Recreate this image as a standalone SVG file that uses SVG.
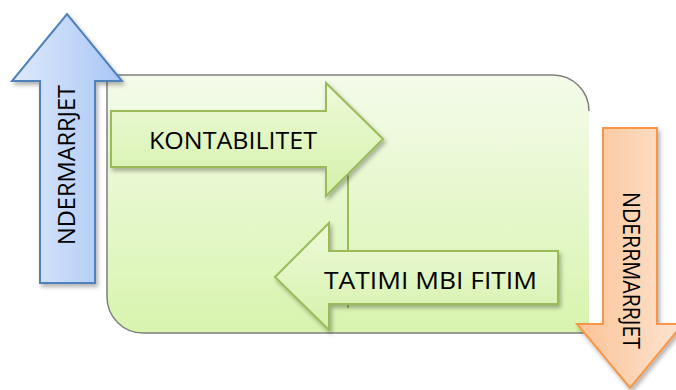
<svg xmlns="http://www.w3.org/2000/svg" width="676" height="390" viewBox="0 0 676 390">
<defs>
<linearGradient id="gBox" x1="0" y1="0" x2="0" y2="1">
<stop offset="0" stop-color="#f4fbea"/>
<stop offset="1" stop-color="#d8f4ae"/>
</linearGradient>
<linearGradient id="gGreen" x1="0" y1="0" x2="0" y2="1">
<stop offset="0" stop-color="#eefada"/>
<stop offset="1" stop-color="#d5f1aa"/>
</linearGradient>
<linearGradient id="gBlue" x1="0" y1="0" x2="1" y2="0">
<stop offset="0" stop-color="#dfeafc"/>
<stop offset="1" stop-color="#a8c6f5"/>
</linearGradient>
<linearGradient id="gOrange" x1="0" y1="0" x2="1" y2="0">
<stop offset="0" stop-color="#fbc396"/>
<stop offset="1" stop-color="#fde4d1"/>
</linearGradient>
<filter id="sh" x="-20%" y="-20%" width="150%" height="150%">
<feDropShadow dx="2" dy="3" stdDeviation="2" flood-color="#000" flood-opacity="0.3"/>
</filter>
<style>
.lbl{font-family:"Open Sans","Liberation Sans",sans-serif;font-size:23px;fill:#000}
.garrow{fill:url(#gGreen);stroke:#9bbb59;stroke-width:2;stroke-linejoin:miter;filter:url(#sh)}
</style>
</defs>

<g id="container">
<path d="M107,75 L553,75 A36,36 0 0 1 589,111 L589,333 L143,333 A36,36 0 0 1 107,297 Z" fill="url(#gBox)"/>
<path d="M589,111 A36,36 0 0 0 553,75 L107,75 L107,297 A36,36 0 0 0 143,333 L589,333" fill="none" stroke="#7f7f7f" stroke-width="1.5"/>
</g>

<g id="connectors">
<line x1="348" y1="112" x2="348" y2="308" stroke="#9bbb59" stroke-width="2"/>
</g>

<g id="kontabilitet">
<path class="garrow" d="M111,111 L326,111 L326,83 L383,139 L326,196 L326,167 L111,167 Z"/>
<text class="lbl" x="149" y="149" textLength="168" lengthAdjust="spacingAndGlyphs">KONTABILITET</text>
</g>

<g id="tatimi">
<path class="garrow" d="M558,251 L329,251 L329,223 L275,277 L329,330 L329,304 L558,304 Z"/>
<text class="lbl" x="324" y="289" textLength="213" lengthAdjust="spacingAndGlyphs">TATIMI MBI FITIM</text>
</g>

<g id="ndermarrjet-up">
<path d="M40,283 L40,81 L12,81 L67,14 L122,81 L95,81 L95,283 Z" fill="url(#gBlue)" stroke="#4f81bd" stroke-width="2" filter="url(#sh)"/>
<text class="lbl" transform="translate(75,245) rotate(-90)" x="0" y="0" textLength="160" lengthAdjust="spacingAndGlyphs">NDERMARRJET</text>
</g>

<g id="nderrmarrjet-down">
<path d="M603,128 L657,128 L657,324 L683,324 L630,388 L577,324 L603,324 Z" fill="url(#gOrange)" stroke="#f79646" stroke-width="2" filter="url(#sh)"/>
<text class="lbl" transform="translate(623,192) rotate(90)" x="0" y="0" textLength="157" lengthAdjust="spacingAndGlyphs">NDERRMARRJET</text>
</g>
</svg>
